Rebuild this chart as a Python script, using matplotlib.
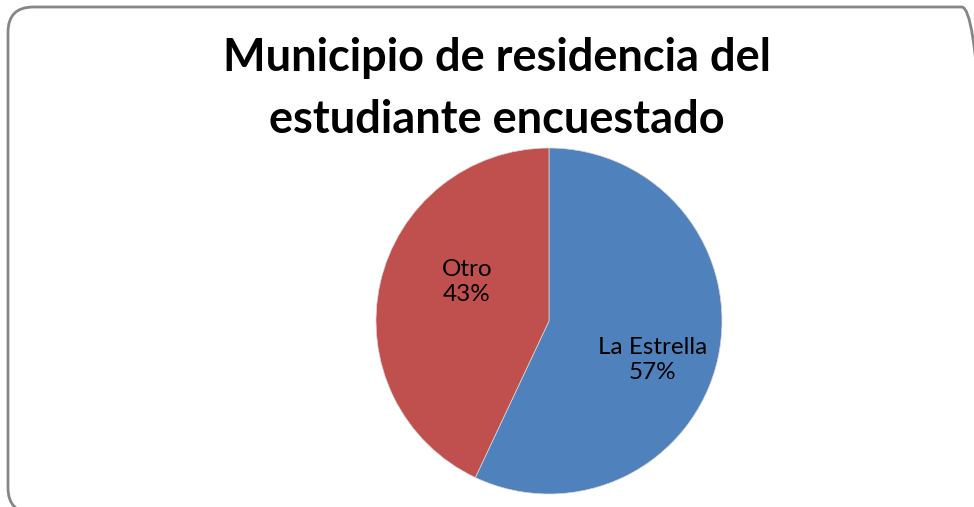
import matplotlib.pyplot as plt
from matplotlib.patches import FancyBboxPatch

categorias = ['La Estrella', 'Otro']
porcentajes = [57, 43]
colores = ['#4F81BD', '#C0504D']
titulo = 'Municipio de residencia del\nestudiante encuestado'

plt.rcParams['font.family'] = ['Lato', 'DejaVu Sans']

W, H = 974, 507
fig = plt.figure(figsize=(W / 100, H / 100), dpi=100)

# marco redondeado (se corta por la derecha y por abajo)
marco = FancyBboxPatch((8 / W, -6 / H), (987 - 8) / W, (H - 7 + 6) / H,
                       boxstyle='round,pad=0,rounding_size=0.026',
                       transform=fig.transFigure, facecolor='none',
                       edgecolor='#868686', linewidth=2, mutation_aspect=W / H,
                       zorder=-1)
fig.patches.append(marco)

# ejes que contienen el pastel: centro (549, 321), radio 173
cx, cy, r = 549, 321, 173
ax = fig.add_axes([(cx - r) / W, (H - cy - r) / H, 2 * r / W, 2 * r / H])
wedges, _ = ax.pie(porcentajes, colors=colores, startangle=90, counterclock=False,
                   wedgeprops=dict(linewidth=0.5, edgecolor='#d9d9d9'))
ax.set_xlim(-1, 1)
ax.set_ylim(-1, 1)
ax.set_aspect('equal')
ax.axis('off')

# etiquetas dentro de las porciones
pos = {'La Estrella': (0.60, -0.225), 'Otro': (-0.475, 0.225)}
for cat, p in zip(categorias, porcentajes):
    x, y = pos[cat]
    ax.text(x, y, f'{cat}\n{p}%', ha='center', va='center', fontsize=17.5,
            color='black', linespacing=1.2)

fig.text(497 / W, 1 - 89 / H, titulo, ha='center', va='center', fontsize=32.5,
         fontweight='bold', linespacing=1.6)

plt.savefig('out.png', dpi=100)
